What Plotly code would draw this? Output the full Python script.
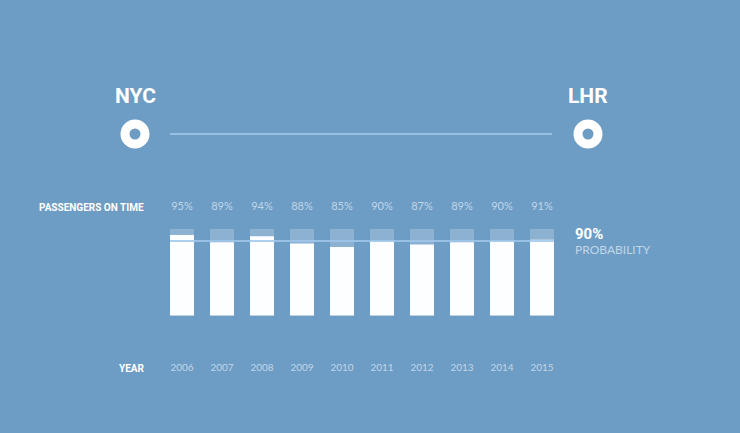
import plotly.graph_objects as go

# ---- data ----
years = ["2006", "2007", "2008", "2009", "2010", "2011", "2012", "2013", "2014", "2015"]
on_time_pct = [95, 89, 94, 88, 85, 90, 87, 89, 90, 91]
probability_pct = 90
scale_max = 100
bar_base = 28
origin = "NYC"
destination = "LHR"

# ---- layout geometry (pixels of the 740x433 canvas) ----
W, H = 740, 433
PLOT_BOTTOM = 360
X0_PX, X_STEP = 182, 40          # pixel centre of first bar, spacing
Y100_PX, PX_PER_PCT = 229, 1.2    # pixel of 100%, pixels per percent


def px2x(px):
    return (px - X0_PX) / X_STEP


def px2y(py):
    return scale_max + (Y100_PX - py) / PX_PER_PCT


BG = "#6d9cc4"
LIGHT = "rgba(225,238,250,0.72)"
ROUTE = "#a7cdef"

xs = list(range(len(years)))

fig = go.Figure()
# full-scale translucent boxes
fig.add_trace(go.Bar(
    x=xs, y=[scale_max - bar_base] * len(years), base=bar_base,
    width=0.6, marker=dict(color="rgba(255,255,255,0.22)", line=dict(width=0)),
    hoverinfo="skip", showlegend=False))
# on-time bars
fig.add_trace(go.Bar(
    x=xs, y=[v - bar_base for v in on_time_pct], base=bar_base,
    width=0.6, marker=dict(color="#fdfeff", line=dict(width=0)),
    customdata=on_time_pct, hovertemplate="%{customdata}%<extra></extra>",
    showlegend=False))
# percent labels
fig.add_trace(go.Scatter(
    x=xs, y=[px2y(207)] * len(years), mode="text",
    text=[f"{v}%" for v in on_time_pct],
    textfont=dict(family="Lato", size=11, color=LIGHT),
    hoverinfo="skip", showlegend=False))
# route endpoints
fig.add_trace(go.Scatter(
    x=[px2x(135), px2x(588)], y=[px2y(134), px2y(134)], mode="markers",
    marker=dict(symbol="circle-open", size=20, color="white", line=dict(width=9, color="white")),
    hoverinfo="skip", showlegend=False))

shapes = [
    # route line
    dict(type="line", xref="x", yref="y", x0=px2x(170), x1=px2x(552),
         y0=px2y(134), y1=px2y(134), line=dict(color=ROUTE, width=1.5), layer="below"),
    # probability line
    dict(type="line", xref="x", yref="y", x0=-0.3, x1=len(years) - 1 + 0.3,
         y0=probability_pct, y1=probability_pct,
         line=dict(color="rgba(160,200,235,0.85)", width=2), layer="above"),
]

annotations = [
    dict(text="<b>PASSENGERS ON TIME</b>", xref="x", yref="y", x=px2x(146), y=px2y(207),
         xanchor="right", yanchor="middle", showarrow=False,
         font=dict(family="Roboto", size=10, color="white")),
    dict(text="<b>YEAR</b>", xref="x", yref="paper", x=px2x(147), y=(PLOT_BOTTOM - 368) / PLOT_BOTTOM,
         xanchor="right", yanchor="middle", showarrow=False,
         font=dict(family="Roboto", size=10, color="white")),
    dict(text=f"<b>{probability_pct}%</b>", xref="x", yref="y", x=px2x(573), y=px2y(234),
         xanchor="left", yanchor="middle", showarrow=False,
         font=dict(family="Roboto", size=15, color="white")),
    dict(text="PROBABILITY", xref="x", yref="y", x=px2x(573), y=px2y(249),
         xanchor="left", yanchor="middle", showarrow=False,
         font=dict(family="Lato", size=12, color=LIGHT)),
    dict(text=f"<b>{origin}</b>", xref="x", yref="y", x=px2x(135), y=px2y(96),
         xanchor="center", yanchor="middle", showarrow=False,
         font=dict(family="Roboto", size=21, color="white")),
    dict(text=f"<b>{destination}</b>", xref="x", yref="y", x=px2x(588), y=px2y(96),
         xanchor="center", yanchor="middle", showarrow=False,
         font=dict(family="Roboto", size=21, color="white")),
]

fig.update_layout(
    width=W, height=H,
    margin=dict(l=0, r=0, t=0, b=H - PLOT_BOTTOM, pad=0),
    paper_bgcolor=BG, plot_bgcolor=BG,
    barmode="overlay",
    shapes=shapes, annotations=annotations,
    xaxis=dict(range=[px2x(0), px2x(W)], tickvals=xs, ticktext=years,
               showgrid=False, zeroline=False, showline=False, ticks="",
               tickfont=dict(family="Lato", size=10, color=LIGHT), fixedrange=True),
    yaxis=dict(range=[px2y(PLOT_BOTTOM), px2y(0)], visible=False, fixedrange=True),
    font=dict(family="Lato"),
)

fig.write_html(
    "out.html",
    config={"displayModeBar": False},
    post_script="document.body.style.margin='0';document.body.style.overflow='hidden';",
)
